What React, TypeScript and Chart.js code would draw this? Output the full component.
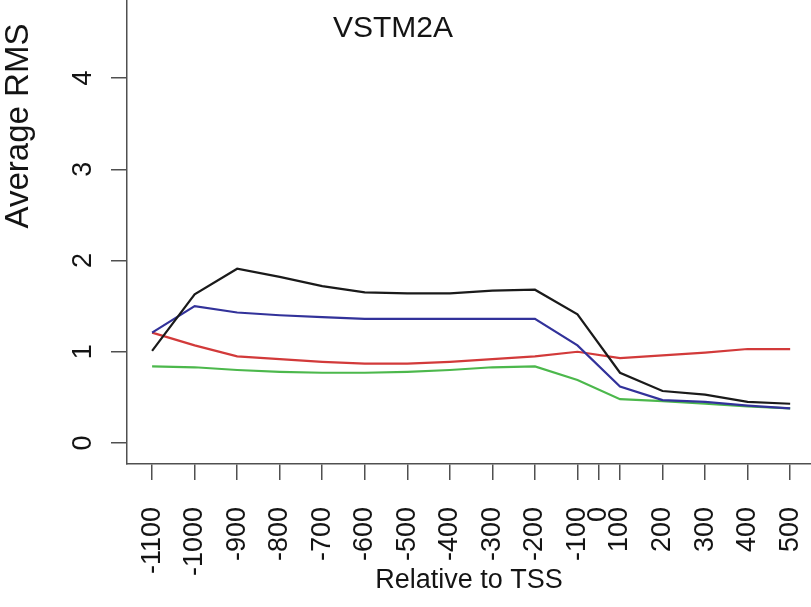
import React, { useEffect, useRef } from "react";
import { Chart, registerables } from "chart.js";

Chart.register(...registerables);

// Categories (positions relative to TSS); "0" sits midway between -100 and 100
const xLabels = ["-1100", "-1000", "-900", "-800", "-700", "-600", "-500", "-400", "-300", "-200", "-100", "100", "200", "300", "400", "500"];
const zeroLabel = "0";

// Series values (Average RMS)
const blackSeries = [1.01, 1.63, 1.91, 1.82, 1.72, 1.65, 1.64, 1.64, 1.67, 1.68, 1.41, 0.77, 0.57, 0.53, 0.45, 0.43];
const blueSeries = [1.21, 1.5, 1.43, 1.4, 1.38, 1.36, 1.36, 1.36, 1.36, 1.36, 1.07, 0.62, 0.47, 0.45, 0.41, 0.38];
const redSeries = [1.21, 1.07, 0.95, 0.92, 0.89, 0.87, 0.87, 0.89, 0.92, 0.95, 1.0, 0.93, 0.96, 0.99, 1.03, 1.03];
const greenSeries = [0.84, 0.83, 0.8, 0.78, 0.77, 0.77, 0.78, 0.8, 0.83, 0.84, 0.69, 0.48, 0.46, 0.43, 0.4, 0.38];

const yTicks = [0, 1, 2, 3, 4];
const chartTitle = "VSTM2A";
const xTitle = "Relative to TSS";
const yTitle = "Average RMS";

const FONT = "'Liberation Sans', Arial, Helvetica, sans-serif";
const TEXT = "#141414";
const AXIS = "#505050";

export default function App() {
  const ref = useRef<HTMLCanvasElement>(null);

  useEffect(() => {
    document.body.style.margin = "0";
    const canvas = ref.current;
    if (!canvas) return;

    const toPts = (arr: number[]) => arr.map((y, i) => ({ x: i, y }));
    const zeroPos = (xLabels.indexOf("-100") + xLabels.indexOf("100")) / 2;
    const xTickVals = [...xLabels.map((_, i) => i), zeroPos].sort((a, b) => a - b);

    const noPad = (s: any) => {
      s.paddingTop = 0;
      s.paddingBottom = 0;
      s.paddingLeft = 0;
      s.paddingRight = 0;
    };

    const textPlugin = {
      id: "extraTexts",
      afterDraw(chart: any) {
        const { ctx, chartArea } = chart;
        ctx.save();
        ctx.fillStyle = TEXT;
        ctx.textAlign = "center";
        ctx.textBaseline = "middle";
        ctx.font = `30px ${FONT}`;
        ctx.fillText(chartTitle, chartArea.left + 266, chartArea.top + 29);
        ctx.translate(chartArea.left - 108, chartArea.top + 126);
        ctx.rotate(-Math.PI / 2);
        ctx.font = `33px ${FONT}`;
        ctx.fillText(yTitle, 0, 0);
        ctx.restore();
      },
    };

    const ds = (data: number[], color: string) => ({
      data: toPts(data),
      borderColor: color,
      backgroundColor: color,
      borderWidth: 2.2,
      pointRadius: 0,
      tension: 0,
      fill: false,
    });

    const chart = new Chart(canvas, {
      type: "line",
      data: {
        datasets: [
          ds(blackSeries, "#1a1a1a"),
          ds(blueSeries, "#32329a"),
          ds(redSeries, "#d23a3a"),
          ds(greenSeries, "#4cb84c"),
        ],
      },
      options: {
        responsive: false,
        animation: false,
        layout: { padding: 0 },
        plugins: {
          legend: { display: false },
          title: { display: false },
          tooltip: { enabled: false },
        },
        scales: {
          x: {
            type: "linear",
            min: -0.59,
            max: 15.49,
            afterBuildTicks: (s: any) => {
              s.ticks = xTickVals.map((v) => ({ value: v }));
            },
            afterFit: (s: any) => {
              s.height = 143;
              noPad(s);
            },
            ticks: {
              autoSkip: false,
              minRotation: 90,
              maxRotation: 90,
              padding: 27,
              color: TEXT,
              font: { family: FONT, size: 27 },
              callback: (v: any) => (v === zeroPos ? zeroLabel : xLabels[v]),
            },
            grid: {
              drawOnChartArea: false,
              drawTicks: true,
              tickLength: 16,
              color: AXIS,
              lineWidth: 1.5,
            },
            border: { display: true, color: AXIS, width: 1.5 },
            title: {
              display: true,
              text: xTitle,
              color: TEXT,
              font: { family: FONT, size: 27 },
              padding: { top: 0, bottom: 10 },
            },
          },
          y: {
            type: "linear",
            min: -0.23,
            max: 4.855,
            afterBuildTicks: (s: any) => {
              s.ticks = yTicks.map((v) => ({ value: v }));
            },
            afterFit: (s: any) => {
              s.width = 127;
              noPad(s);
            },
            ticks: {
              minRotation: 90,
              maxRotation: 90,
              crossAlign: "center",
              padding: 20,
              color: TEXT,
              font: { family: FONT, size: 27 },
              callback: (v: any) => String(v),
            },
            grid: {
              drawOnChartArea: false,
              drawTicks: true,
              tickLength: 16,
              color: AXIS,
              lineWidth: 1.5,
            },
            border: { display: true, color: AXIS, width: 1.5 },
          },
        },
      },
      plugins: [textPlugin],
    } as any);

    return () => chart.destroy();
  }, []);

  return (
    <div style={{ position: "absolute", left: 0, top: 0, width: 811, height: 607, background: "#fff" }}>
      <canvas ref={ref} width={811} height={607} />
    </div>
  );
}
